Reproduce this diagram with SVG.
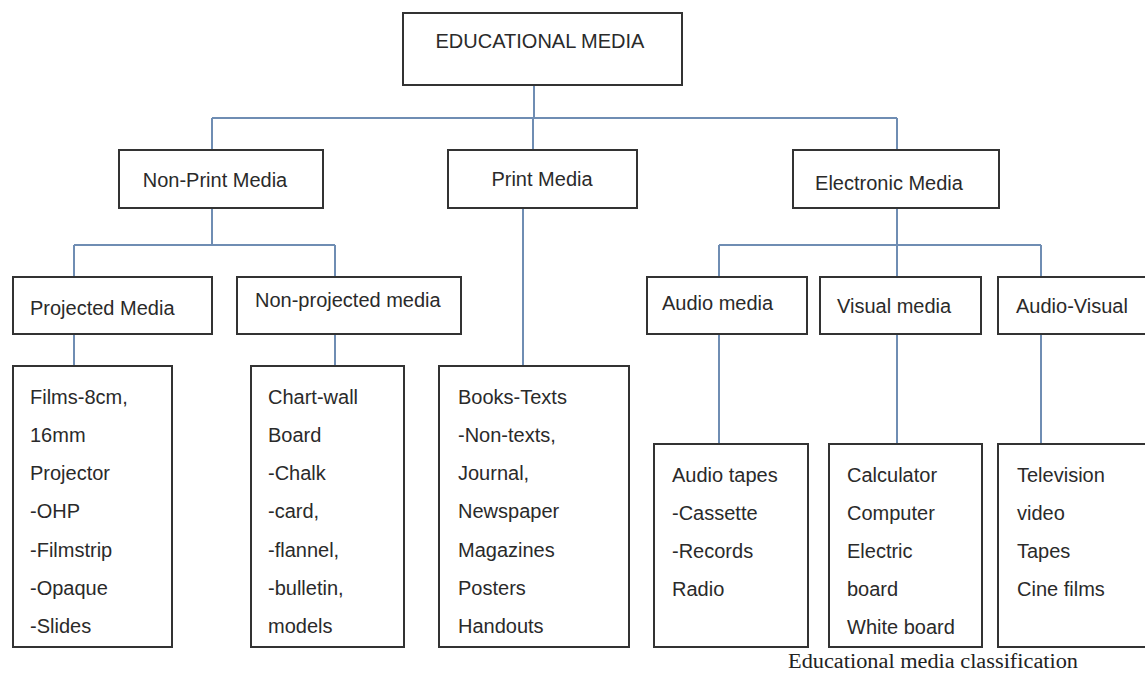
<svg xmlns="http://www.w3.org/2000/svg" width="1145" height="679" viewBox="0 0 1145 679">
<style>
.box{fill:#fff;stroke:#333;stroke-width:2}
.t{font-family:"Liberation Sans",Arial,sans-serif;font-size:20px;fill:#2a2a2a}
.c{text-anchor:middle}
.conn line{stroke:#6f8db3;stroke-width:2}
.cap{font-family:"Liberation Serif","Times New Roman",serif;font-size:20px;fill:#222}
</style>
<rect width="1145" height="679" fill="#fff"/>
<g id="connectors" class="conn">
<line x1="534" y1="85" x2="534" y2="118"/>
<line x1="212" y1="118" x2="897" y2="118"/>
<line x1="212" y1="118" x2="212" y2="150"/>
<line x1="533" y1="118" x2="533" y2="150"/>
<line x1="897" y1="118" x2="897" y2="150"/>
<line x1="212" y1="208" x2="212" y2="245"/>
<line x1="74" y1="245" x2="335" y2="245"/>
<line x1="74" y1="245" x2="74" y2="277"/>
<line x1="335" y1="245" x2="335" y2="277"/>
<line x1="523" y1="208" x2="523" y2="366"/>
<line x1="897" y1="208" x2="897" y2="245"/>
<line x1="719" y1="245" x2="1041" y2="245"/>
<line x1="719" y1="245" x2="719" y2="277"/>
<line x1="897" y1="245" x2="897" y2="277"/>
<line x1="1041" y1="245" x2="1041" y2="277"/>
<line x1="74" y1="334" x2="74" y2="366"/>
<line x1="335" y1="334" x2="335" y2="366"/>
<line x1="719" y1="334" x2="719" y2="444"/>
<line x1="897" y1="334" x2="897" y2="444"/>
<line x1="1041" y1="334" x2="1041" y2="444"/>
</g>
<g id="educational-media"><rect class="box" x="403" y="13" width="279" height="72"/><text class="t c" x="540" y="48">EDUCATIONAL MEDIA</text></g>
<g id="non-print-media"><rect class="box" x="119" y="150" width="204" height="58"/><text class="t c" x="215" y="187">Non-Print Media</text></g>
<g id="print-media"><rect class="box" x="448" y="150" width="189" height="58"/><text class="t c" x="542" y="186">Print Media</text></g>
<g id="electronic-media"><rect class="box" x="793" y="150" width="206" height="58"/><text class="t c" x="889" y="190">Electronic Media</text></g>
<g id="projected-media"><rect class="box" x="13" y="277" width="199" height="57"/><text class="t" x="30" y="315">Projected Media</text></g>
<g id="non-projected-media"><rect class="box" x="237" y="277" width="224" height="57"/><text class="t" x="255" y="307">Non-projected media</text></g>
<g id="audio-media"><rect class="box" x="647" y="277" width="160" height="57"/><text class="t" x="662" y="310">Audio media</text></g>
<g id="visual-media"><rect class="box" x="820" y="277" width="161" height="57"/><text class="t" x="837" y="313">Visual media</text></g>
<g id="audio-visual"><rect class="box" x="998" y="277" width="160" height="57"/><text class="t" x="1016" y="313">Audio-Visual</text></g>
<g id="projected-list"><rect class="box" x="13" y="366" width="159" height="281"/>
<text class="t" x="30" y="404">Films-8cm,</text>
<text class="t" x="30" y="442">16mm</text>
<text class="t" x="30" y="480">Projector</text>
<text class="t" x="30" y="518">-OHP</text>
<text class="t" x="30" y="557">-Filmstrip</text>
<text class="t" x="30" y="595">-Opaque</text>
<text class="t" x="30" y="633">-Slides</text></g>
<g id="non-projected-list"><rect class="box" x="251" y="366" width="153" height="281"/>
<text class="t" x="268" y="404">Chart-wall</text>
<text class="t" x="268" y="442">Board</text>
<text class="t" x="268" y="480">-Chalk</text>
<text class="t" x="268" y="518">-card,</text>
<text class="t" x="268" y="557">-flannel,</text>
<text class="t" x="268" y="595">-bulletin,</text>
<text class="t" x="268" y="633">models</text></g>
<g id="print-list"><rect class="box" x="439" y="366" width="190" height="281"/>
<text class="t" x="458" y="404">Books-Texts</text>
<text class="t" x="458" y="442">-Non-texts,</text>
<text class="t" x="458" y="480">Journal,</text>
<text class="t" x="458" y="518">Newspaper</text>
<text class="t" x="458" y="557">Magazines</text>
<text class="t" x="458" y="595">Posters</text>
<text class="t" x="458" y="633">Handouts</text></g>
<g id="audio-list"><rect class="box" x="654" y="444" width="154" height="203"/>
<text class="t" x="672" y="482">Audio tapes</text>
<text class="t" x="672" y="520">-Cassette</text>
<text class="t" x="672" y="558">-Records</text>
<text class="t" x="672" y="596">Radio</text></g>
<g id="visual-list"><rect class="box" x="829" y="444" width="153" height="203"/>
<text class="t" x="847" y="482">Calculator</text>
<text class="t" x="847" y="520">Computer</text>
<text class="t" x="847" y="558">Electric</text>
<text class="t" x="847" y="596">board</text>
<text class="t" x="847" y="634">White board</text></g>
<g id="audio-visual-list"><rect class="box" x="998" y="444" width="160" height="203"/>
<text class="t" x="1017" y="482">Television</text>
<text class="t" x="1017" y="520">video</text>
<text class="t" x="1017" y="558">Tapes</text>
<text class="t" x="1017" y="596">Cine films</text></g>
<text class="cap" x="788" y="668" textLength="290" lengthAdjust="spacingAndGlyphs">Educational media classification</text>
</svg>
